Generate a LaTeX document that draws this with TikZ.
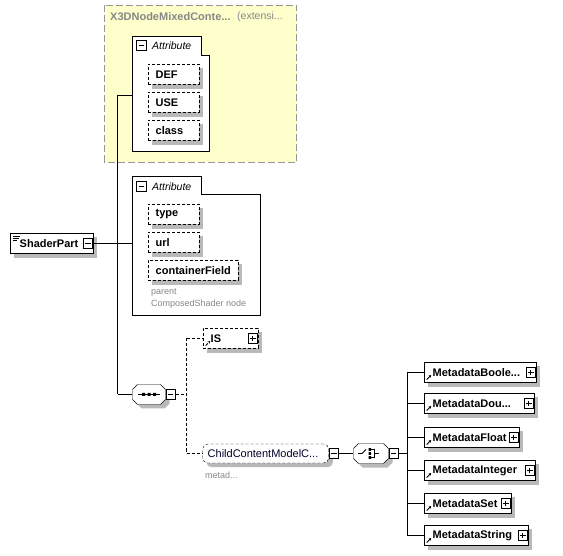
\documentclass[tikz,border=0pt]{standalone}
\usepackage{fontspec}
\setmainfont{Liberation Sans}
\usetikzlibrary{arrows.meta}
\definecolor{ylw}{RGB}{255,255,204}
\definecolor{ylwborder}{RGB}{150,150,150}
\definecolor{shd}{RGB}{185,185,185}
\definecolor{txtgray}{RGB}{135,135,135}
\definecolor{txtnavy}{RGB}{0,0,40}
\pgfdeclarelayer{bglayer}
\pgfdeclarelayer{shadowlayer}
\pgfsetlayers{bglayer,shadowlayer,main}
\begin{document}
\begin{tikzpicture}[x=1pt,y=-1pt,line width=1pt,
  shadowfill/.style={fill=shd, draw=none},
  elfont/.style={font=\bfseries\fontsize{11}{13}\selectfont},
  elem/.style={draw, fill=white, anchor=west, minimum height=20pt,
    inner xsep=8pt, inner ysep=0pt, text width=#1, align=left, elfont},
  optel/.style={elem=#1, dash pattern=on 3pt off 2pt},
  refarrow/.style={path picture={
    \draw[line width=0.8pt,-{Stealth[length=2.6pt,width=2.8pt]}]
      ([xshift=3pt,yshift=3pt]path picture bounding box.south west) -- ++(4.5pt,4.5pt);}},
  refel/.style={elem=#1, inner xsep=9pt, refarrow},
  pm/.style={draw, fill=white, minimum size=9.5pt, inner sep=0pt, line width=0.9pt},
  pmminus/.style={pm, path picture={\draw[line width=0.9pt]
      ([xshift=-2.6pt]path picture bounding box.center) -- ++(5.2pt,0pt);}},
  pmplus/.style={pm, path picture={\draw[line width=0.9pt]
      ([xshift=-2.6pt]path picture bounding box.center) -- ++(5.2pt,0pt)
      ([yshift=-2.6pt]path picture bounding box.center) -- ++(0pt,5.2pt);}},
  attrbox/.style={draw, fill=white},
  attrlbl/.style={anchor=west, inner sep=0pt, font=\itshape\fontsize{10.5}{12}\selectfont},
  note/.style={anchor=west, inner sep=0pt, text=txtgray, font=\fontsize{9}{11}\selectfont},
  grpbox/.style={inner sep=0pt},
  grpshape/.style={draw, fill=white},
  optline/.style={dash pattern=on 3pt off 2pt}
]
\useasboundingbox (0,0) rectangle (563,556);

% ---------- extension group (yellow) ----------
\begin{pgfonlayer}{bglayer}
\draw[fill=ylw, draw=ylwborder, dash pattern=on 7pt off 3pt] (104.5,5.5) rectangle (296.5,162.5);
\end{pgfonlayer}
\node[anchor=west, inner sep=0pt, text=txtgray, elfont] (ttl) at (110,17) {X3DNodeMixedConte...};
\node[anchor=west, inner sep=0pt, text=txtgray, font=\fontsize{10.5}{12}\selectfont] (ttl2) at (237,17) {(extensi...};

% attribute box 1
\begin{pgfonlayer}{bglayer}
\draw[attrbox] (132.5,36.5) -- (201.5,36.5) -- (201.5,55.5) -- (209.5,55.5) -- (209.5,151.5) -- (132.5,151.5) -- cycle;
\end{pgfonlayer}
\node[pmminus] (a1m) at (141.5,45.5) {};
\node[attrlbl] (a1l) at (152,46) {Attribute};
\node[optel=35pt] (def) at (147.5,74.5) {DEF};
\node[optel=35pt] (use) at (147.5,102.5) {USE};
\node[optel=35pt] (class) at (147.5,130.5) {class};
\coordinate (a1) at (132.5,95.5);

% attribute box 2
\begin{pgfonlayer}{bglayer}
\draw[attrbox] (132.5,176.5) -- (201.5,176.5) -- (201.5,194.5) -- (260.5,194.5) -- (260.5,315.5) -- (132.5,315.5) -- cycle;
\end{pgfonlayer}
\node[pmminus] (a2m) at (141.5,186.5) {};
\node[attrlbl] (a2l) at (152,186.5) {Attribute};
\node[optel=35pt] (type) at (147.5,214.5) {type};
\node[optel=35pt] (url) at (147.5,242.5) {url};
\node[optel=74pt] (cf) at (147.5,270.5) {containerField};
\node[note] (n1) at (151,293) {parent};
\node[note] (n2) at (151,304) {ComposedShader node};
\coordinate (a2) at (132.5,243.5);

% ---------- root ----------
\node[elem=63pt, inner xsep=10pt, path picture={
    \draw[line width=0.8pt] ([xshift=3pt,yshift=-3pt]path picture bounding box.north west) -- ++(7pt,0pt)
      ([xshift=3pt,yshift=-5pt]path picture bounding box.north west) -- ++(6pt,0pt)
      ([xshift=3pt,yshift=-7pt]path picture bounding box.north west) -- ++(4pt,0pt);}]
  (sp) at (9.5,243.5) {ShaderPart};
\node[pmminus] (spm) at ([xshift=-5pt]sp.east) {};

% trunk
\coordinate (t1) at (117.5,95.5);
\coordinate (t3) at (117.5,394.5);
\draw (t1) -- (t3);
\draw (t1) -- (a1);
\draw (spm.east) -- (a2);

% sequence
\draw[grpshape] (132.5,389.5) -- (137.5,384.5) -- (160.5,384.5) -- (165.5,389.5) -- (165.5,399.5) -- (160.5,404.5) -- (137.5,404.5) -- (132.5,399.5) -- cycle;
\node[grpbox, minimum width=33pt, minimum height=20pt] (seq) at (149,394.5) {};
\draw[line width=0.9pt] (138,394.5) -- (160,394.5);
\fill (142,393) rectangle ++(3,3) (147.5,393) rectangle ++(3,3) (153,393) rectangle ++(3,3);
\node[pmminus] (seqm) at ([xshift=5pt]seq.east) {};
\draw (t3) -- (seq.west);

% optional branch
\node[optel=39pt, refarrow] (is) at (202.5,338.5) {IS};
\node[pmplus] (isp) at ([xshift=-5pt]is.east) {};
\node[draw, fill=white, rounded corners=5pt, dash pattern=on 3pt off 2pt,
  anchor=west, minimum height=19pt, inner xsep=5pt, inner ysep=0pt, text width=116pt,
  align=left, font=\fontsize{11}{13}\selectfont, text=txtnavy]
  (child) at (202.5,453.5) {ChildContentModelC...};
\node[pmminus] (childm) at ([xshift=5pt]child.east) {};
\node[note] (n3) at (205,475) {metad...};

\coordinate (d1) at (186.5,394.5);
\draw[optline] (seqm.east) -- (d1);
\draw[optline] (is.west -| d1) -- (child.west -| d1);
\draw[optline] (is.west -| d1) -- (is.west);
\draw[optline] (child.west -| d1) -- (child.west);

% choice
\draw[grpshape] (353.5,448.5) -- (358.5,443.5) -- (383.5,443.5) -- (388.5,448.5) -- (388.5,458.5) -- (383.5,463.5) -- (358.5,463.5) -- (353.5,458.5) -- cycle;
\node[grpbox, minimum width=35pt, minimum height=20pt] (ch) at (371,453.5) {};
\draw[line width=0.9pt] (358,453.5) -- (362,453.5) -- (366,449.5);
\fill (368.5,448.2) rectangle ++(2.6,2.6) (368.5,452.2) rectangle ++(2.6,2.6) (368.5,456.2) rectangle ++(2.6,2.6);
\draw[line width=0.9pt] (371,449.5) -- (374.5,449.5) -- (374.5,457.5) -- (371,457.5) (374.5,453.5) -- (379,453.5);
\node[pmminus] (chm) at ([xshift=5pt]ch.east) {};
\draw (childm.east) -- (ch.west);

% metadata elements
\node[refel=94pt] (mb) at (423.5,372.5) {MetadataBoole...};
\node[refel=92pt] (md) at (423.5,403.5) {MetadataDou...};
\node[refel=77pt] (mf) at (423.5,437.5) {MetadataFloat};
\node[refel=93pt] (mi) at (423.5,470.5) {MetadataInteger};
\node[refel=69pt] (ms) at (423.5,503.5) {MetadataSet};
\node[refel=86pt] (mstr) at (423.5,535.5) {MetadataString};
\foreach \n in {mb,md,mf,mi,ms,mstr} {\node[pmplus] (\n p) at ([xshift=-5pt]\n.east) {};}

\coordinate (bus) at (407.5,453.5);
\draw (chm.east) -- (bus);
\draw (mb.west -| bus) -- (mstr.west -| bus);
\foreach \n in {mb,md,mf,mi,ms,mstr} {\draw (\n.west -| bus) -- (\n.west);}

% ---------- shadows ----------
\begin{pgfonlayer}{shadowlayer}
\foreach \n in {def,use,class,type,url,cf,sp,is,mb,md,mf,mi,ms,mstr}
  {\fill[shadowfill] ([xshift=4pt,yshift=-4pt]\n.south west) rectangle ([xshift=4pt,yshift=-4pt]\n.north east);}
\fill[shadowfill, rounded corners=5pt] ([xshift=4pt,yshift=-4pt]child.south west) rectangle ([xshift=4pt,yshift=-4pt]child.north east);
\fill[shadowfill] (136.5,393.5) -- (141.5,388.5) -- (164.5,388.5) -- (169.5,393.5) -- (169.5,403.5) -- (164.5,408.5) -- (141.5,408.5) -- (136.5,403.5) -- cycle;
\fill[shadowfill] (357.5,452.5) -- (362.5,447.5) -- (387.5,447.5) -- (392.5,452.5) -- (392.5,462.5) -- (387.5,467.5) -- (362.5,467.5) -- (357.5,462.5) -- cycle;
\end{pgfonlayer}
\end{tikzpicture}
\end{document}
